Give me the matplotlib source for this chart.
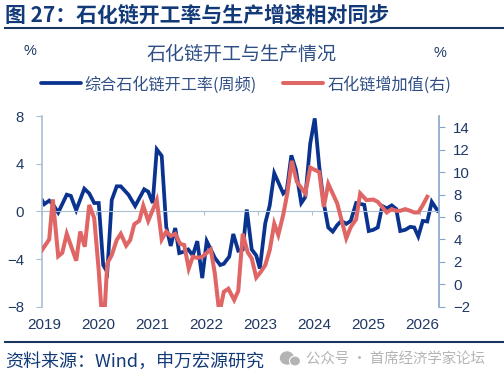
import numpy as np
import matplotlib
matplotlib.use("Agg")
import matplotlib.pyplot as plt
from matplotlib.patches import Ellipse

plt.rcParams['font.family'] = ['Noto Sans CJK SC', 'DejaVu Sans']

# months since Jan 2019
blue_m = [0, 0.5, 1.6, 2.4, 3.6, 5.5, 6.4, 7.6, 9.4, 10.5, 11.6, 12.6, 13.6, 14.5, 15.5, 16.6, 17.5, 19.2, 20.7,
          22.7, 23.6, 24.6, 25.5, 26.6, 27.6, 28.6, 29.6, 30.5, 31.4, 32.5, 33.5, 34.5, 35.6, 36.6, 38.4, 39.6,
          40.4, 41.6, 42.5, 43.6, 44.6, 45.5, 46.6, 47.6, 48.4, 49.6, 50.6, 51.6, 53.6, 54.4, 55.4, 56.4, 57.6,
          58.5, 59.6, 60.6, 61.6, 62.6, 63.6, 64.6, 65.6, 66.5, 67.6, 68.6, 69.8, 71.6, 72.6, 73.6, 74.6, 75.6,
          76.6, 77.7, 78.7, 79.6, 80.7, 81.8, 82.7, 83.6, 84.6, 85.6, 86.6, 87.9]
blue_v = [0.95, 0.6, 0.9, 0.6, -0.1, 1.4, 1.3, 0.1, 1.9, 1.5, 0.7, 0.7, -4.5, -5.1, 0.95, 2.1, 2.1, 1.4, 0.45,
          1.85, 1.65, 0.7, 5.2, 4.65, -1.3, -2.9, -1.4, -3.5, -3.4, -3.2, -3.7, -2.5, -5.6, -2.5, -3.9, -4.5,
          -4.4, -3.8, -1.9, -3.3, -3.2, 0.15, -3.2, -3.7, -4.8, -1.0, 0.5, 3.2, 1.5, 1.8, 4.7, 3.5, 0.7,
          1.2, 5.7, 7.8, 3.75, 0.7, -1.35, -1.7, -1.15, -0.8, -1.05, -0.8, 0.7, 0.55, -1.65, -1.55, -1.35, 0.45,
          0.25, 0.5, 0.2, -1.65, -1.55, -1.3, -1.35, -2.1, -0.8, -0.85, 0.8, 0.05]

red_m = [0, 1.6, 2.4, 3.6, 4.5, 5.5, 7.6, 8.5, 9.5, 10.5, 11.6, 12.6, 13.6, 14.5, 15.5, 16.6, 17.5, 18.7, 19.6,
         20.5, 21.6, 22.5, 23.6, 25.5, 26.6, 27.6, 28.6, 29.6, 30.7, 31.6, 32.6, 33.5, 34.5, 35.6, 37.5, 38.4,
         39.4, 40.4, 41.4, 42.7, 43.6, 44.6, 45.7, 46.6, 47.6, 48.6, 49.6, 50.6, 51.6, 52.5, 53.6, 54.5, 55.5,
         56.6, 58.5, 59.6, 61.6, 62.6, 63.6, 65.6, 67.6, 68.6, 69.8, 70.7, 72.1, 73.6, 74.6, 76.6, 77.7, 78.7,
         79.6, 80.7, 81.8, 82.7, 83.6, 84.6, 85.6]
red_v = [3.05, 4.0, 7.57, 2.5, 2.8, 4.5, 2.1, 4.7, 3.35, 7.07, 5.9, 1.25, -4.6, 1.85, 2.6, 3.95, 4.5, 3.45, 3.95,
         5.35, 5.65, 7.0, 5.65, 7.5, 4.0, 4.7, 4.3, 4.5, 3.6, 3.5, 1.4, 2.45, 2.35, 2.45, 3.1, 0.96,
         -2.6, -0.67, -0.4, -1.4, -0.6, 4.5, 2.85, 2.3, 0.6, 1.1, 1.7, 3.05, 5.4, 4.4, 6.2, 8.1, 11.0,
         9.15, 8.1, 10.4, 10.0, 6.9, 8.95, 7.2, 4.1, 5.1, 5.8, 8.1, 7.5, 7.55, 7.35, 6.4, 6.7, 6.55,
         6.55, 6.7, 6.55, 6.4, 6.4, 7.05, 7.8]

years = [2019, 2020, 2021, 2022, 2023, 2024, 2025, 2026]
left_ticks = [-8, -4, 0, 4, 8]
right_ticks = [-2, 0, 2, 4, 6, 8, 10, 12, 14]

W, H = 504, 381
NAVY = '#123a78'
TEXT = '#1f3864'
BLUE = '#0a3390'
RED = '#e06666'

fig = plt.figure(figsize=(W / 100, H / 100), dpi=100)
ax = fig.add_axes([42 / W, 1 - 306.7 / H, 396.7 / W, 190.7 / H])
ax2 = ax.twinx()

blue_x = 2019 + np.array(blue_m) / 12
red_x = 2019 + np.array(red_m) / 12
ax.plot(blue_x, blue_v, color=BLUE, lw=2.7, solid_joinstyle='miter')
ax2.plot(red_x, red_v, color=RED, lw=2.9, solid_joinstyle='miter')

ax.set_xlim(2019, 2026.345)
ax.set_ylim(-8, 8)
ax2.set_ylim(-2, 15)

for s in ['top']:
    ax.spines[s].set_visible(False)
    ax2.spines[s].set_visible(False)
ax.spines['right'].set_visible(False)
ax2.spines['left'].set_visible(False)
ax2.spines['bottom'].set_visible(False)
ax.spines['bottom'].set_position(('data', 0))
ax.spines['bottom'].set_color('#a9bfd3')
ax.spines['left'].set_color('#a9bfd3')
ax2.spines['right'].set_color('#86a3cc')
ax.spines['left'].set_linewidth(1.2)
ax2.spines['right'].set_linewidth(1.2)

ax.set_xticks(years)
ax.set_xticklabels([])
ax.tick_params(axis='x', length=3, color='#a9bfd3', direction='out')
ax.set_yticks(left_ticks)
ax.tick_params(axis='y', length=4, color='#a9bfd3', labelsize=10.8, labelcolor=TEXT, pad=9)
ax2.set_yticks(right_ticks)
ax2.tick_params(axis='y', length=4, color='#86a3cc', labelsize=10.8, labelcolor=TEXT, pad=6.5)
for lab in ax.get_yticklabels() + ax2.get_yticklabels():
    lab.set_fontfamily('Liberation Sans')

# everything outside the plot is placed in pixel coords
ov = fig.add_axes([0, 0, 1, 1], zorder=-1)
ov.set_xlim(0, W)
ov.set_ylim(H, 0)
ov.axis('off')

for y in years:
    ov.text(44 + (y - 2019) * 54, 325, str(y), ha='center', va='center', fontsize=11, color=TEXT,
            family='Liberation Sans')

ov.plot([5, W], [28, 28], color='#17375e', lw=1.5)
ov.plot([5, W], [342, 342], color='#17375e', lw=1.5)
ov.text(5, 15, '图 27\uff1a石化链开工率与生产增速相对同步', fontsize=15, fontweight='bold', color=NAVY,
        ha='left', va='center')
ov.text(242, 54, '石化链开工与生产情况', fontsize=13.7, color='#2f4f85', ha='center', va='center',
        fontweight='light')
ov.text(30, 51, '%', fontsize=10.5, color=TEXT, ha='center', va='center', family='Liberation Sans')
ov.text(440, 53, '%', fontsize=10.5, color=TEXT, ha='center', va='center', family='Liberation Sans')

ov.plot([41, 81], [83, 83], color=BLUE, lw=2.7, solid_capstyle='round')
ov.text(84, 85, '综合石化链开工率(周频)', fontsize=11.6, color='#2f4f85', ha='left', va='center', fontweight='light')
ov.plot([283, 323], [83, 83], color=RED, lw=2.9, solid_capstyle='round')
ov.text(328, 85, '石化链增加值(右)', fontsize=11.6, color='#2f4f85', ha='left', va='center', fontweight='light')

ov.text(5, 362, '资料来源\uff1aWind\uff0c申万宏源研究', fontsize=13, color=NAVY, ha='left', va='center')

ov.add_patch(Ellipse((287, 358), 13, 12, color='#b4b4b4'))
ov.add_patch(Ellipse((295, 361), 11, 10, color='#b4b4b4', ec='white', lw=0.8))
ov.text(306, 360, '公众号 · 首席经济学家论坛', fontsize=10.4, color='#b4b4b4', ha='left', va='center')

fig.savefig('out.png', dpi=100)
